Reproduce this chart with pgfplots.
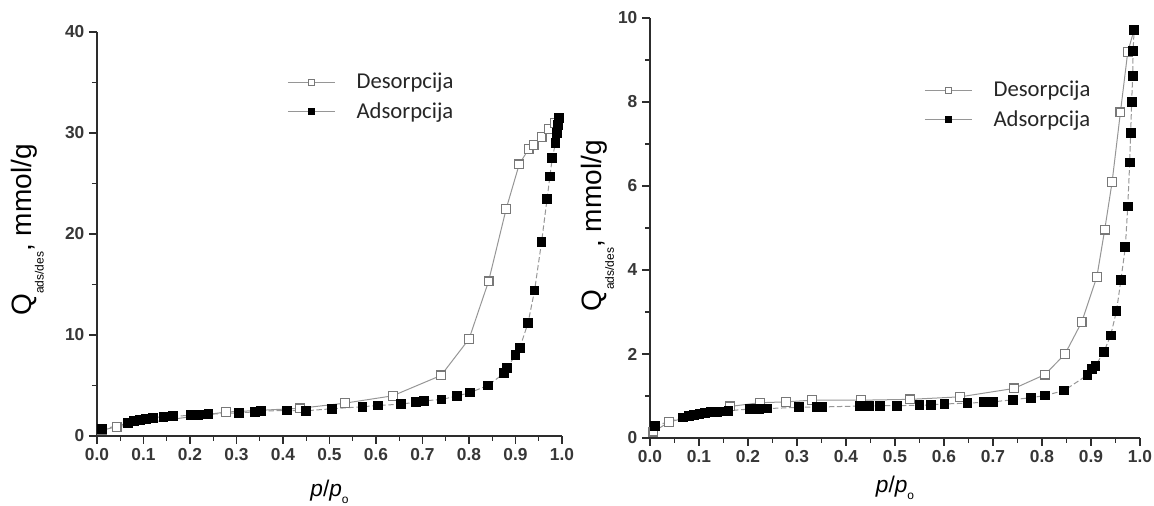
\documentclass[border=0pt]{standalone}
\usepackage{fontspec}
\setmainfont{Liberation Sans}
\newfontfamily\legendfont{Carlito}
\usepackage{pgfplots}
\pgfplotsset{compat=1.18}
\definecolor{lineg}{RGB}{150,150,150}
\definecolor{markg}{RGB}{120,120,120}
\definecolor{axg}{RGB}{45,45,45}
\definecolor{tickc}{RGB}{55,55,55}

\pgfplotsset{
  iso/.style={
    scale only axis, axis lines=left, axis line style={-, axg, line width=1.1pt},
    tick align=outside, major tick length=6pt, minor tick length=3.75pt,
    tick style={axg, line width=1pt},
    xmin=0, xmax=1, xtick={0,0.1,...,1.0}, minor x tick num=1, minor y tick num=1,
    xticklabel style={/pgf/number format/.cd, fixed, fixed zerofill, precision=1},
    /pgf/number format/assume math mode=true,
    tick label style={font=\fontsize{13}{15}\selectfont\bfseries, text=tickc},
    xlabel={\fontsize{17}{20}\selectfont\textit{p}/\textit{p}\raisebox{-0.3em}{\fontsize{9}{9}\selectfont o}},
    ylabel={\fontsize{21}{24}\selectfont Q\raisebox{-0.45em}{\fontsize{9}{9}\selectfont ads/des}, mmol/g},
    legend style={draw=none, fill=none, anchor=north west, font=\legendfont\fontsize{17}{20}\selectfont, text=black!85, column sep=16pt, row sep=6pt, nodes={inner sep=0pt, text height=12pt, text depth=4pt}},
    legend cell align=left,
    legend image code/.code={\draw[##1, solid, line width=1pt, mark size=2.2pt, mark repeat=2, mark phase=2] plot coordinates {(0pt,1pt) (17.5pt,1pt) (35pt,1pt)};},
    clip=false,
  },
  des/.style={lineg, line width=0.75pt, mark=square*, mark size=3.3pt, mark options={solid, draw=markg, fill=white, line width=0.9pt}},
  ads/.style={lineg, line width=0.75pt, dash pattern=on 4pt off 2pt, mark=square*, mark size=3.3pt, mark options={solid, draw=black, fill=black}},
}

\pgfplotstableread{
p Q
0.010 0.55
0.042 0.92
0.277 2.37
0.436 2.74
0.533 3.25
0.636 3.98
0.740 6.0
0.800 9.6
0.842 15.3
0.880 22.5
0.908 26.9
0.928 28.4
0.939 28.8
0.956 29.6
0.972 30.4
0.985 31.0
0.993 31.5
}\desA

\pgfplotstableread{
p Q
0.011 0.66
0.067 1.27
0.080 1.45
0.093 1.58
0.106 1.72
0.120 1.82
0.143 1.90
0.164 1.95
0.203 2.05
0.217 2.10
0.230 2.13
0.240 2.15
0.305 2.30
0.340 2.38
0.352 2.47
0.408 2.53
0.450 2.50
0.506 2.70
0.571 2.90
0.605 3.02
0.653 3.15
0.686 3.35
0.703 3.48
0.741 3.62
0.774 3.95
0.802 4.30
0.841 5.00
0.875 6.20
0.881 6.70
0.900 8.00
0.909 8.70
0.927 11.2
0.941 14.4
0.956 19.2
0.968 23.5
0.974 25.7
0.979 27.5
0.986 29.0
0.989 30.0
0.991 30.8
0.993 31.5
}\adsA

\pgfplotstableread{
p Q
0.007 0.15
0.039 0.38
0.163 0.75
0.224 0.84
0.278 0.86
0.330 0.90
0.431 0.90
0.531 0.92
0.633 0.98
0.743 1.18
0.806 1.51
0.847 2.00
0.881 2.76
0.912 3.84
0.928 4.96
0.943 6.09
0.960 7.75
0.975 9.19
0.988 9.72
}\desB

\pgfplotstableread{
p Q
0.010 0.29
0.068 0.49
0.079 0.52
0.090 0.55
0.101 0.58
0.112 0.60
0.124 0.61
0.136 0.62
0.148 0.63
0.160 0.65
0.204 0.69
0.222 0.69
0.238 0.70
0.304 0.73
0.340 0.74
0.352 0.74
0.428 0.76
0.438 0.76
0.448 0.76
0.469 0.77
0.504 0.77
0.550 0.78
0.574 0.79
0.601 0.81
0.648 0.83
0.682 0.85
0.700 0.86
0.740 0.91
0.777 0.96
0.806 1.01
0.845 1.13
0.893 1.50
0.902 1.65
0.909 1.72
0.926 2.04
0.940 2.44
0.952 3.02
0.961 3.76
0.970 4.54
0.975 5.51
0.979 6.56
0.981 7.27
0.983 8.00
0.985 8.62
0.986 9.22
0.988 9.72
}\adsB

\begin{document}
\begin{tikzpicture}
\useasboundingbox (0,0) rectangle (865.5pt,379.5pt);
\begin{axis}[iso,
  at={(72.75pt,52.5pt)}, anchor=south west,
  width=348.75pt, height=303pt,
  ymin=0, ymax=40, ytick={0,10,20,30,40},
  xlabel style={at={(axis description cs:0.5,-0.138)}, anchor=center},
  ylabel style={at={(axis description cs:-0.15,0.51)}, anchor=center},
  legend style={at={(axis description cs:0.40,0.906)}},
]
\addplot[des] table[x=p,y=Q] {\desA};
\addlegendentry{Desorpcija}
\addplot[ads] table[x=p,y=Q] {\adsA};
\addlegendentry{Adsorpcija}
\end{axis}
\begin{axis}[iso,
  at={(487.5pt,51pt)}, anchor=south west,
  width=367.5pt, height=315pt,
  ymin=0, ymax=10, ytick={0,2,4,6,8,10},
  xlabel style={at={(axis description cs:0.5,-0.118)}, anchor=center},
  ylabel style={at={(axis description cs:-0.107,0.505)}, anchor=center},
  legend style={at={(axis description cs:0.551,0.857)}},
]
\addplot[des] table[x=p,y=Q] {\desB};
\addlegendentry{Desorpcija}
\addplot[ads] table[x=p,y=Q] {\adsB};
\addlegendentry{Adsorpcija}
\end{axis}
\end{tikzpicture}
\end{document}
